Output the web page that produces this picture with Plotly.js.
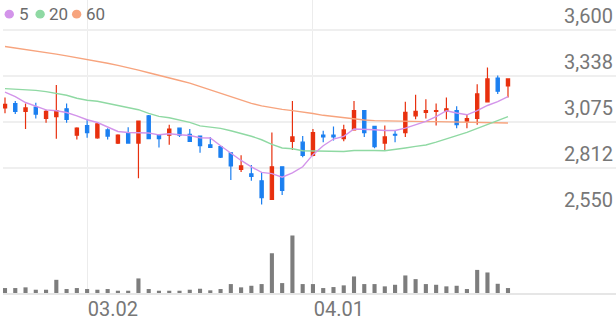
<!DOCTYPE html>
<html><head><meta charset="utf-8">
<script src="https://cdn.plot.ly/plotly-3.0.1.min.js"></script>
<style>html,body{margin:0;padding:0;background:#fff}#chart{width:616px;height:321px}</style>
</head><body><div id="chart"></div>
<script>
// ---- data ----
const dates = ["02.17","02.18","02.19","02.22","02.23","02.24","02.25","02.26",
  "03.02","03.03","03.04","03.05","03.08","03.09","03.10","03.11","03.12","03.15","03.16","03.17",
  "03.18","03.19","03.22","03.23","03.24","03.25","03.26","03.29","03.30","03.31",
  "04.01","04.02","04.05","04.06","04.07","04.08","04.09","04.12","04.13","04.14",
  "04.15","04.16","04.19","04.20","04.21","04.22","04.23","04.26","04.27","04.28"];
const openP  = [3155,3180,3135,3160,3095,3105,3150,3000,3055,2985,3030,2955,3015,2955,3110,3000,3000,3040,3005,2995,
                2945,2935,2900,2805,2780,2740,2635,2820,2965,2960,2885,3000,3000,2980,3030,3140,3050,2955,3005,3015,
                3110,3130,3135,3135,3140,3080,3095,3190,3325,3280];
const highP  = [3215,3195,3180,3185,3145,3285,3180,3045,3090,3070,3040,3005,3045,3080,3115,3000,3060,3040,3035,2995,
                2990,2940,2900,2885,2830,2790,3015,2820,3195,2995,3035,3025,3050,3060,3195,3140,3050,3055,3025,3190,
                3230,3205,3180,3215,3165,3120,3290,3385,3340,3320];
const lowP   = [3125,3120,3035,3095,3070,2980,3070,2975,2985,2980,2975,2950,2955,2755,2980,2930,2945,2990,2965,2900,
                2930,2870,2745,2790,2740,2605,2635,2660,2915,2875,2880,2960,2970,2965,3030,2990,2925,2915,2960,2990,
                3090,3095,3055,3090,3040,3040,3060,3190,3235,3215];
const closeP = [3175,3135,3155,3120,3135,3140,3090,3040,3015,3065,2995,3000,2955,3080,2980,2980,3035,3000,2965,2940,
                2930,2875,2825,2825,2765,2645,2820,2685,2990,2885,3015,2990,2990,3030,3140,3015,2935,2990,3000,3130,
                3135,3140,3140,3150,3060,3095,3235,3320,3250,3320];
const volume = [50000,50000,57000,33000,33000,133000,40000,50000,40000,33000,40000,23000,23000,147000,40000,23000,23000,23000,33000,43000,
                27000,40000,90000,57000,73000,90000,400000,100000,580000,90000,90000,50000,60000,77000,167000,90000,90000,67000,83000,177000,
                140000,90000,83000,67000,73000,40000,233000,207000,93000,50000];
const ma5  = [3245,3220,3186,3163,3144,3139,3129,3110,3088,3072,3046,3021,3015,3012,3012,3002,3008,3002,2998,2985,
              2984,2940,2898,2856,2820,2788,2781,2761,2786,2820,2889,2940,2978,2993,3035,3035,3031,3027,3027,3040,
              3059,3078,3106,3139,3126,3116,3140,3169,3191,3220];
const ma20 = [3265,3262,3259,3255,3248,3239,3227,3210,3199,3193,3181,3171,3159,3145,3124,3107,3099,3088,3073,3053,
              3046,3039,3025,3011,2994,2974,2948,2927,2923,2911,2911,2911,2910,2907,2913,2915,2913,2911,2917,2927,
              2936,2944,2960,2977,2997,3016,3039,3059,3082,3105];
const ma60 = [3505,3497,3487,3480,3471,3461,3451,3441,3432,3421,3409,3397,3385,3370,3355,3339,3326,3311,3296,3277,
              3259,3241,3221,3199,3181,3167,3156,3147,3140,3133,3123,3113,3106,3099,3092,3086,3083,3081,3079,3078,
              3078,3077,3077,3076,3074,3073,3072,3070,3069,3069];
const priceTickVals = [2550, 2812.5, 3075, 3337.5, 3600];
const priceTickText = ["2,550", "2,812", "3,075", "3,338", "3,600"];
const dateTickLabels = ["03.02", "04.01"];
const maLabels = ["5", "20", "60"];

// ---- styles ----
const maColors = ["#d394ea", "#8fd9a3", "#f7a47e"];
const upColor = "#e8300e", downColor = "#1b7ff0";
const W = 616, H = 321;
const FONT = "Roboto, 'Noto Sans', sans-serif";

const idx = dates.map((d, i) => i);
const traces = [
  {type: "candlestick", x: idx, open: openP, high: highP, low: lowP, close: closeP,
   xaxis: "x", yaxis: "y", whiskerwidth: 0,
   increasing: {line: {color: upColor, width: 1.2}, fillcolor: upColor},
   decreasing: {line: {color: downColor, width: 1.2}, fillcolor: downColor},
   hoverinfo: "skip"},
  {type: "bar", x: idx, y: volume, xaxis: "x", yaxis: "y2", marker: {color: "#7d7d7d"}, hoverinfo: "skip"}
];
[ma60, ma20, ma5].forEach((arr, k) => {
  const c = maColors[2 - k];
  traces.push({type: "scatter", mode: "lines", x: idx, y: arr, xaxis: "x", yaxis: "y",
    line: {color: c, width: 1.4}, hoverinfo: "skip"});
});

// legend (circles + text)
const legendX = [6.3, 37.3, 74];
const legendTextX = [15, 45.5, 82];
const legendY = 15.5;
const shapes = legendX.map((cx, k) => ({
  type: "circle", xref: "paper", yref: "paper",
  x0: (cx - 4.7) / W, x1: (cx + 4.7) / W, y0: 1 - (legendY + 4.7) / H, y1: 1 - (legendY - 4.7) / H,
  fillcolor: maColors[k], line: {width: 0}
}));
const annotations = maLabels.map((t, k) => ({
  text: t, xref: "paper", yref: "paper", x: legendTextX[k] / W, y: 1 - legendY / H,
  xanchor: "left", yanchor: "middle", showarrow: false, borderpad: 0,
  font: {family: FONT, size: 17, color: "#6b6b6b"}
}));

const plotLeft = 3, pxPerBar = 10.265, firstBarPx = 5;
const r0 = -(firstBarPx - plotLeft) / pxPerBar;
const r1 = r0 + (W - plotLeft) / pxPerBar;
const yPx3600 = 29.8, unitsPerPx = 1050 / 184.8, priceBottomPx = 215, volBottomPx = 293.5;
const plotH = volBottomPx;

const layout = {
  width: W, height: H, margin: {l: plotLeft, r: 0, t: 0, b: H - volBottomPx},
  paper_bgcolor: "#fff", plot_bgcolor: "#fff", showlegend: false, hovermode: false, dragmode: false,
  boxgap: 0.55, bargap: 0.6,
  xaxis: {anchor: "y2", range: [r0, r1], rangeslider: {visible: false},
    tickmode: "array", tickvals: dateTickLabels.map(d => dates.indexOf(d)), ticktext: dateTickLabels,
    ticks: "", showgrid: true, gridcolor: "#ececec", gridwidth: 1,
    showline: true, linecolor: "#e6e6e6", linewidth: 1.5, zeroline: false,
    ticklabelposition: "outside right", ticklabelstandoff: -3,
    tickfont: {family: FONT, size: 20, color: "#777"}},
  yaxis: {domain: [1 - priceBottomPx / plotH, 1],
    range: [3600 - (priceBottomPx - yPx3600) * unitsPerPx, 3600 + yPx3600 * unitsPerPx],
    anchor: "x", side: "right", tickmode: "array", tickvals: priceTickVals, ticktext: priceTickText,
    ticks: "", showgrid: true, gridcolor: "#efefef", gridwidth: 1.5, zeroline: false, showline: false,
    ticklabelposition: "inside top", tickfont: {family: FONT, size: 20, color: "#777"}},
  yaxis2: {domain: [0, 1 - priceBottomPx / plotH], range: [0, 580000 * (volBottomPx - priceBottomPx) / 57.6],
    anchor: "x", showgrid: false, zeroline: false, showticklabels: false, ticks: "", showline: false},
  shapes: shapes, annotations: annotations
};

Plotly.newPlot("chart", traces, layout, {staticPlot: true, displayModeBar: false});
</script>
</body></html>
